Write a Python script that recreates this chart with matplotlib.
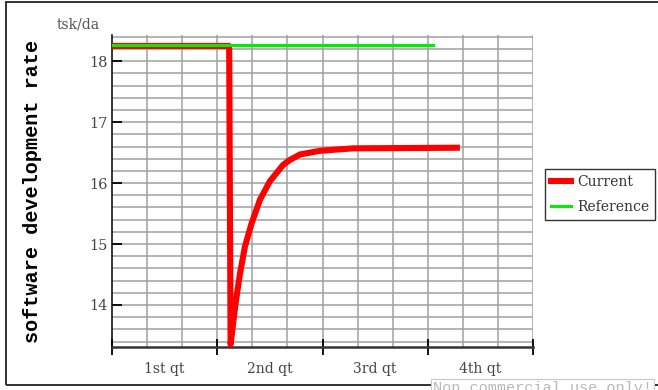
import matplotlib
matplotlib.use("Agg")
import matplotlib.pyplot as plt
from matplotlib.patches import Rectangle
from matplotlib.ticker import FixedLocator

# months since start of year, rate in tsk/day
months_current = [0, 3.34, 3.38, 3.51, 3.58, 3.65, 3.79, 3.98, 4.22, 4.50, 4.88, 5.07, 5.36, 5.93, 6.87, 9.83]
rate_current = [18.25, 18.25, 13.35, 13.97, 14.25, 14.52, 14.96, 15.34, 15.73, 16.03, 16.30, 16.38, 16.47, 16.53, 16.57, 16.58]
months_reference = [0, 9.16]
rate_reference = [18.27, 18.27]
quarter_labels = ["1st qt", "2nd qt", "3rd qt", "4th qt"]
y_ticks = [14, 15, 16, 17, 18]

W, H = 658, 390
fig = plt.figure(figsize=(W / 100, H / 100), dpi=100)

# outer frame
fig.patches.append(Rectangle((6 / W, 1 - 385 / H), 660 / W, 383 / H,
                             transform=fig.transFigure, fill=False,
                             edgecolor="#222222", linewidth=1.3))

ax = fig.add_axes([112 / W, 1 - 347 / H, (533 - 112) / W, (347 - 35) / H])

ax.plot(months_current, rate_current, color="#ff0000", linewidth=4.4,
        solid_joinstyle="round", label="Current", zorder=3)
ax.plot(months_reference, rate_reference, color="#00ee00", linewidth=2.2,
        label="Reference", zorder=4)

ax.set_xlim(0, 12)
ax.set_ylim(13.31, 18.43)

for s in ["top", "right"]:
    ax.spines[s].set_visible(False)
ax.spines["left"].set_color("black")
ax.spines["left"].set_linewidth(1.1)
ax.spines["bottom"].set_color("#333333")
ax.spines["bottom"].set_linewidth(1.8)

# grid: every month and every 0.2
for m in range(1, 13):
    ax.axvline(m, color="#a0a0a0", linewidth=1.1, zorder=1)
k = 0
while 13.4 + 0.2 * k <= 18.41:
    ax.axhline(13.4 + 0.2 * k, color="#a0a0a0", linewidth=1.1, zorder=1)
    k += 1

font = "DejaVu Serif"
ax.yaxis.set_major_locator(FixedLocator(y_ticks))
ax.set_yticklabels([str(t) for t in y_ticks], family=font,
                   fontsize=10.5, color="#444444")
ax.tick_params(axis="y", direction="in", length=7.5, width=1.3, pad=3, color="black")

ax.xaxis.set_major_locator(FixedLocator([0, 3, 6, 9, 12]))
ax.xaxis.set_minor_locator(FixedLocator([1.5, 4.5, 7.5, 10.5]))
ax.set_xticklabels([], minor=False)
ax.set_xticklabels(quarter_labels, minor=True, family=font,
                   fontsize=10, color="#444444")
ax.tick_params(axis="x", which="major", direction="inout", length=12, width=1.3, color="black")
ax.tick_params(axis="x", which="minor", length=0, pad=11)

fig.text(57 / W, 1 - 25 / H, "tsk/da", family=font, fontsize=10,
         color="#555555", va="center", ha="left")
fig.text(33 / W, 1 - 191 / H, "software development rate", family="Liberation Mono",
         fontweight="bold", fontsize=14.5, rotation=90, va="center", ha="center")

leg = ax.legend(loc="upper left", bbox_to_anchor=(545 / W, 1 - 169 / H),
                bbox_transform=fig.transFigure, prop={"family": font, "size": 10},
                frameon=True, fancybox=False, borderpad=0.45, labelspacing=0.75,
                handlelength=1.4, handletextpad=0.45, borderaxespad=0)
leg.get_frame().set_edgecolor("black")
leg.get_frame().set_linewidth(1.0)
for t in leg.get_texts():
    t.set_color("#333333")

fig.text(433 / W, 1 - 381 / H, "Non commercial use only!", family="Liberation Mono",
         fontsize=11, color="#b8b8b8", va="top", ha="left",
         bbox=dict(boxstyle="square,pad=0.15", facecolor="white", edgecolor="#c8c8c8", linewidth=0.8))

fig.savefig("out.png", dpi=100)
